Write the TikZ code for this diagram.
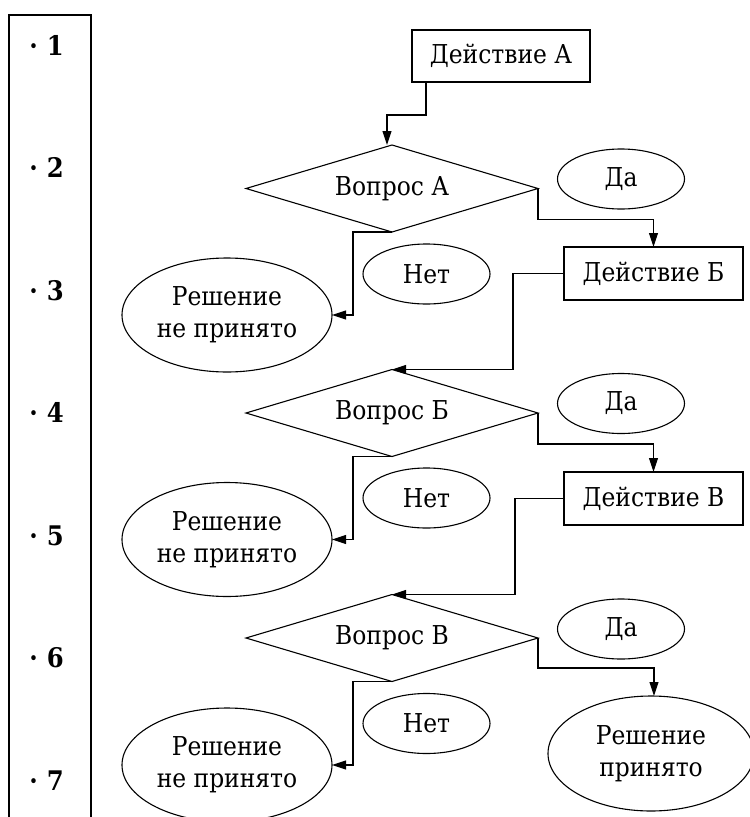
\documentclass[tikz,border=0pt]{standalone}
\usepackage{fontspec}
\setmainfont{DejaVu Serif Condensed}
\usetikzlibrary{shapes.geometric,arrows.meta}
\begin{document}
\begin{tikzpicture}[x=1pt,y=-1pt,
  every node/.style={font=\fontsize{26}{32}\selectfont, inner sep=0pt, outer sep=0pt},
  line/.style={line width=1.1pt},
  arr/.style={line width=1.1pt, -{Triangle[length=14pt,width=9pt]}},
  actbox/.style={draw, line width=1.1pt, rectangle, minimum width=179pt, minimum height=53pt},
  qbox/.style={draw, line width=1.1pt, diamond, shape aspect=3.36, minimum width=292pt, minimum height=87pt},
  yesno/.style={draw, line width=1.1pt, ellipse, minimum width=127pt, minimum height=60pt},
  result/.style={draw, line width=1.1pt, ellipse, minimum width=210pt, minimum height=114pt, align=center},
  num/.style={font=\fontsize{27}{30}\selectfont\bfseries}
]
\useasboundingbox (0,0) rectangle (750,817);
\clip (0,0) rectangle (750,817);

% left panel
\draw[line] (9,830) -- (9,15) -- (91,15) -- (91,830);
\foreach \i in {1,...,7}
  \node[num] (n\i) at (46.5,{45+122.6*(\i-1)}) {·\hspace{9pt}\i};

% row A
\node[actbox, minimum width=178pt, minimum height=52pt] (actA) at (501,56) {Действие А};
\node[qbox] (qA) at (392,188.5) {Вопрос А};
\node[yesno] (yesA) at (621,179) {Да};
\node[yesno] (noA) at (426.5,274) {Нет};
\node[actbox] (actB) at (653.5,273.5) {Действие Б};
\node[result] (resA) at (227,315) {Решение\\не принято};

% row B
\node[qbox] (qB) at (392,413) {Вопрос Б};
\node[yesno] (yesB) at (621,403.5) {Да};
\node[yesno] (noB) at (426.5,498) {Нет};
\node[actbox] (actC) at (653.5,498.5) {Действие В};
\node[result] (resB) at (227,539.5) {Решение\\не принято};

% row C
\node[qbox] (qC) at (392,638) {Вопрос В};
\node[yesno] (yesC) at (621,629) {Да};
\node[yesno] (noC) at (426.5,723.5) {Нет};
\node[result] (resC) at (227,765) {Решение\\не принято};
\node[result, minimum width=206pt, minimum height=115pt] (resYes) at (651,753.5) {Решение\\принято};

% connectors
\draw[arr] ([xshift=-75pt]actA.south) -- ++(0,33) -| ([xshift=-5pt]qA.north);
\draw[arr] (qA.east) -- ++(0,31) -| (actB.north);
\draw[arr] (qA.south) -- ++(-39,0) |- (resA.east);
\draw[arr] (actB.west) -- ++(-51,0) |- (qB.north);
\draw[arr] (qB.east) -- ++(0,31) -| (actC.north);
\draw[arr] (qB.south) -- ++(-39,0) |- (resB.east);
\draw[arr] (actC.west) -- ++(-49,0) |- (qC.north);
\draw[arr] (qC.east) -- ++(0,30) -| ([xshift=3pt]resYes.north);
\draw[arr] (qC.south) -- ++(-39,0) |- (resC.east);
\end{tikzpicture}
\end{document}
